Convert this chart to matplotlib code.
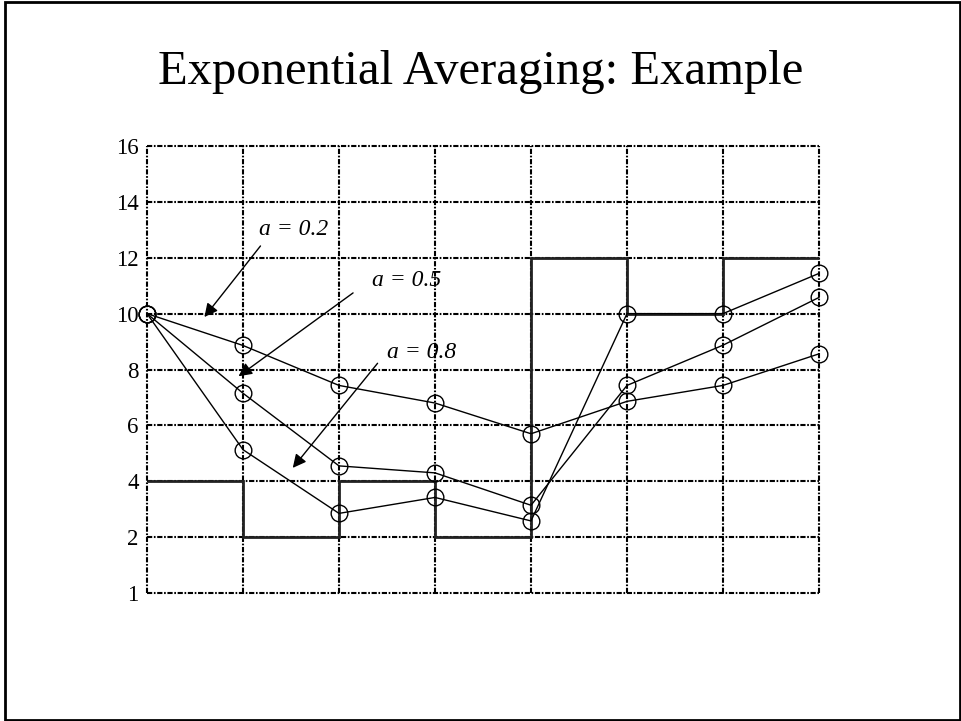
import matplotlib
matplotlib.use("Agg")
import matplotlib.pyplot as plt
from matplotlib.patches import Rectangle

# データ
x_pos = [0, 1, 2, 3, 4, 5, 6, 7]
burst_edges = [0, 1, 2, 3, 4, 5, 6, 7]
burst_values = [4, 2, 4, 2, 12, 10, 12]
avg_a02 = [10, 8.86, 7.43, 6.80, 5.70, 6.86, 7.43, 8.56]
avg_a05 = [10, 7.15, 4.55, 4.30, 3.14, 7.43, 8.87, 10.58]
avg_a08 = [10, 5.13, 2.85, 3.42, 2.58, 10.0, 10.0, 11.44]
y_ticks = [0, 2, 4, 6, 8, 10, 12, 14, 16]
y_tick_labels = ["1", "2", "4", "6", "8", "10", "12", "14", "16"]
labels = ["a = 0.2", "a = 0.5", "a = 0.8"]

plt.rcParams['font.family'] = ['Liberation Serif', 'DejaVu Serif']

fig = plt.figure(figsize=(9.61, 7.21), dpi=100)
ax = fig.add_axes([147/961, 1-593/721, (819-147)/961, (593-146)/721])

# グリッド（一点鎖線）
grid_style = dict(color='black', linewidth=1.5, linestyle=(0, (2.5, 0.8, 0.8, 0.8)),
                  zorder=1, clip_on=False)
for xv in x_pos:
    ax.axvline(xv, **grid_style)
for yv in y_ticks:
    ax.axhline(yv, **grid_style)

# バースト長（階段）
ax.stairs(burst_values, burst_edges, baseline=None, color='#222222', linewidth=2.0,
          zorder=3, clip_on=False)

# 指数平均
for y in [avg_a02, avg_a05, avg_a08]:
    ax.plot(x_pos, y, color='black', linewidth=1.0, marker='o', markersize=12,
            markerfacecolor='none', markeredgecolor='black', markeredgewidth=1.0,
            zorder=4, clip_on=False)

ax.set_xlim(0, 7)
ax.set_ylim(0, 16)
ax.set_xticks([])
ax.set_yticks(y_ticks)
ax.set_yticklabels(y_tick_labels, fontsize=16.5)
ax.tick_params(axis='y', length=0, pad=6)
for s in ax.spines.values():
    s.set_visible(False)

# 注釈
arrow = dict(arrowstyle='-|>', color='black', linewidth=1.0, mutation_scale=20)
ax.annotate("", xy=(0.58, 9.8), xytext=(1.20, 12.5), arrowprops=arrow, zorder=5)
ax.annotate("", xy=(0.93, 7.7), xytext=(2.17, 10.8), arrowprops=arrow, zorder=5)
ax.annotate("", xy=(1.50, 4.4), xytext=(2.42, 8.3), arrowprops=arrow, zorder=5)
ax.text(1.53, 13.0, labels[0], fontsize=17, style='italic', ha='center', va='center', zorder=6)
ax.text(2.70, 11.2, labels[1], fontsize=17, style='italic', ha='center', va='center', zorder=6)
ax.text(2.86, 8.6, labels[2], fontsize=17, style='italic', ha='center', va='center', zorder=6)

fig.text(0.5, 0.90, "Exponential Averaging: Example", fontsize=35, ha='center', va='center')

# 外枠
fig.patches.append(Rectangle((4.5/961, 1-719.5/721), 955/961, 718/721, transform=fig.transFigure,
                             fill=False, edgecolor='black', linewidth=2.0))

fig.savefig("out.png", dpi=100)
